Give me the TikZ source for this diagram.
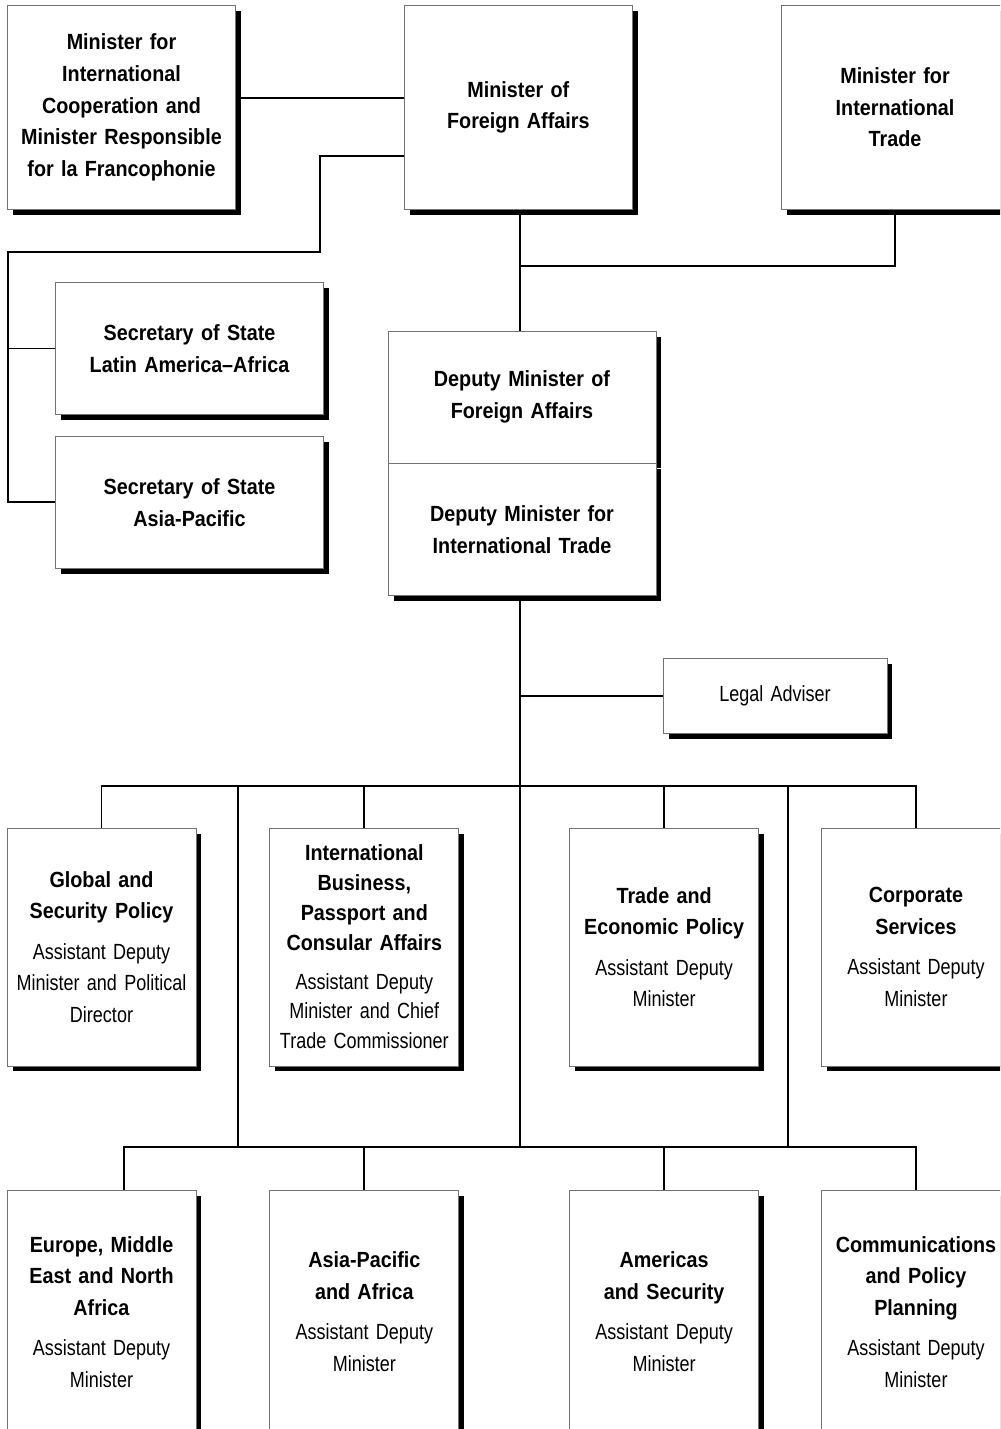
\documentclass[tikz,border=0pt]{standalone}
\usepackage{fontspec}
\setmainfont{Liberation Sans}[UprightFeatures={FakeStretch=0.82}, BoldFeatures={FakeStretch=0.9}]
\usetikzlibrary{shadows,positioning}
\newcommand{\admtext}[2]{\textbf{#1}\\[5pt]#2}
\newcommand{\orgfont}[1]{\fontsize{12.5}{#1}\selectfont\spaceskip=2.4pt plus 1pt minus 0.5pt}

\begin{document}
\begin{tikzpicture}[
    x=0.02cm, y=-0.02cm,
    node distance=0.42cm,
    orgbox/.style={rectangle, draw=black!55, line width=0.5pt, fill=white, inner sep=0pt, align=center, font=\orgfont{18}\bfseries, drop shadow={shadow xshift=0.11cm, shadow yshift=-0.11cm, opacity=1, fill=black}},
    minbox/.style={orgbox, minimum width=4.56cm, minimum height=4.08cm, text width=4.4cm},
    secbox/.style={orgbox, minimum width=5.36cm, minimum height=2.64cm, text width=5.2cm},
    admbox/.style={orgbox, minimum width=3.78cm, minimum height=4.76cm, text width=3.7cm, font=\orgfont{18}},
    lowbox/.style={admbox, minimum height=4.84cm},
    link/.style={line width=1.1pt}
]
    \useasboundingbox (0,0) rectangle (1000,1429);
    \clip (0,0) rectangle (1000,1429);
    \fill[white] (0,0) rectangle (1000,1429);

    % ministers
    \node[minbox] (icmin) at (121.5,107.5) {Minister for\\International\\Cooperation and\\Minister Responsible\\for la Francophonie};
    \node[minbox, right=3.36cm of icmin] (mfa) {Minister of\\Foreign Affairs};
    \node[minbox] (mit) at (895,107.5) {Minister for\\International\\Trade};

    % secretaries of state
    \node[secbox] (secla) at (189.5,348.5) {Secretary of State\\Latin America--Africa};
    \node[secbox, below=of secla] (secap) {Secretary of State\\Asia-Pacific};

    % deputy ministers
    \node[secbox] (dmfa) at (522,397) {Deputy Minister of\\Foreign Affairs};
    \node[secbox, below=0pt of dmfa] (dmit) {Deputy Minister for\\International Trade};
    \node[orgbox, minimum width=4.48cm, minimum height=1.5cm, text width=4.3cm, font=\orgfont{18}] (legal) at (775,696) {Legal Adviser};

    % assistant deputy ministers
    \node[admbox] (gsp) at (101.5,947) {\admtext{Global and\\Security Policy}{Assistant Deputy\\Minister and Political\\Director}};
    \node[admbox, right=1.46cm of gsp, font=\orgfont{17}] (ibp) {\admtext{International\\Business,\\Passport and\\Consular Affairs}{Assistant Deputy\\Minister and Chief\\Trade Commissioner}};
    \node[admbox, right=2.2cm of ibp] (tep) {\admtext{Trade and\\Economic Policy}{Assistant Deputy\\Minister}};
    \node[admbox, right=1.24cm of tep] (cs) {\admtext{Corporate\\Services}{Assistant Deputy\\Minister}};

    \node[lowbox, below=2.48cm of gsp] (emena) {\admtext{Europe, Middle\\East and North\\Africa}{Assistant Deputy\\Minister}};
    \node[lowbox, below=2.48cm of ibp] (apa) {\admtext{Asia-Pacific\\and Africa}{Assistant Deputy\\Minister}};
    \node[lowbox, below=2.48cm of tep] (amer) {\admtext{Americas\\and Security}{Assistant Deputy\\Minister}};
    \node[lowbox, below=2.48cm of cs] (cpp) {\admtext{Communications\\and Policy\\Planning}{Assistant Deputy\\Minister}};

    % levels of the lines
    \coordinate (trunk) at (520,0);
    \coordinate (icline) at (0,98);
    \coordinate (secbend) at (320,156);
    \coordinate (secspine) at (8,252);
    \coordinate (mitbus) at (0,266);
    \coordinate (busa) at (0,786);
    \coordinate (busb) at (0,1147);
    \coordinate (lspine) at (238,786);
    \coordinate (rspine) at (788,786);
    \coordinate (emdrop) at (124,0);

    \draw[link] (icmin.east |- icline) -- (mfa.west |- icline);
    \draw[link] (mfa.west |- secbend) -- (secbend) |- (secspine) |- (secap.west);
    \draw[link] (secla.west) -- (secla.west -| secspine);
    \draw[link] (mfa.south -| trunk) -- (dmfa.north -| trunk);
    \draw[link] (mit.south) |- (mitbus -| trunk);
    \draw[link] (dmit.south -| trunk) -- (busb -| trunk);
    \draw[link] (legal.west) -- (legal.west -| trunk);

    \draw[link] (gsp.north) |- (busa -| cs.north) -- (cs.north);
    \draw[link] (ibp.north) -- (ibp.north |- busa);
    \draw[link] (tep.north) -- (tep.north |- busa);
    \draw[link] (lspine) -- (lspine |- busb);
    \draw[link] (rspine) -- (rspine |- busb);

    \draw[link] (emena.north -| emdrop) |- (busb -| cpp.north) -- (cpp.north);
    \draw[link] (apa.north) -- (apa.north |- busb);
    \draw[link] (amer.north) -- (amer.north |- busb);
\end{tikzpicture}
\end{document}
